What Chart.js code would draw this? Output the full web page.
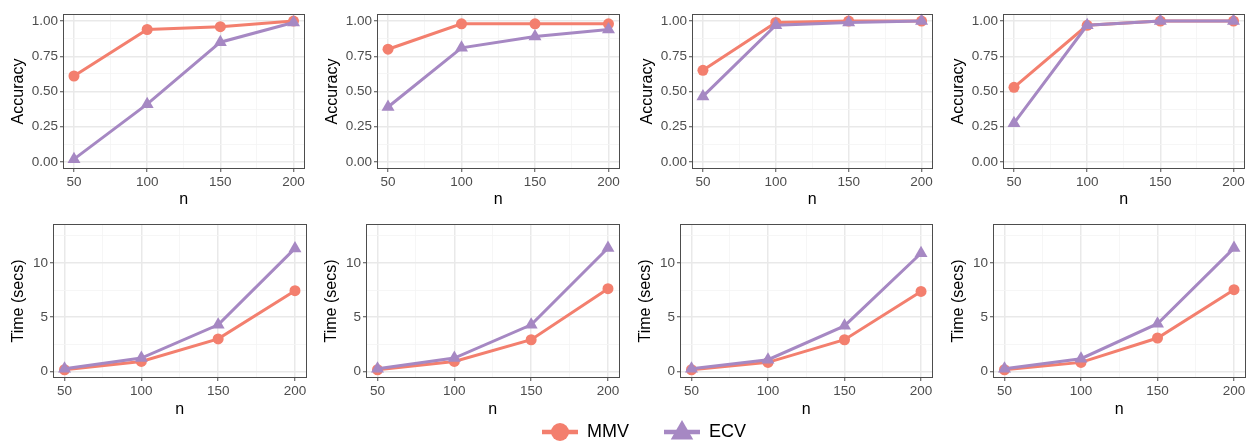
<!DOCTYPE html>
<html>
<head>
<meta charset="utf-8">
<script src="https://cdn.jsdelivr.net/npm/chart.js@4.4.1/dist/chart.umd.min.js"></script>
<style>
  html, body { margin: 0; padding: 0; background: #fff; }
  body { width: 1252px; height: 442px; position: relative; overflow: hidden; }
  .panel { position: absolute; }
  .panel canvas { display: block; }
</style>
</head>
<body>
<script>
// x values and tick positions
const nValues = [50, 100, 150, 200];
const xTicks = [50, 75, 100, 125, 150, 175, 200];
const accTicks = [0, 0.125, 0.25, 0.375, 0.5, 0.625, 0.75, 0.875, 1];
const timeTicks = [0, 2.5, 5, 7.5, 10, 12.5];
const seriesNames = ['MMV', 'ECV'];

// accuracy, one row per panel (left to right)
const accMMV = [
    [0.61, 0.94, 0.96, 1.00],
    [0.80, 0.98, 0.98, 0.98],
    [0.65, 0.99, 1.00, 1.00],
    [0.53, 0.97, 1.00, 1.00]
];
const accECV = [
    [0.02, 0.41, 0.85, 0.99],
    [0.39, 0.81, 0.89, 0.94],
    [0.465, 0.97, 0.99, 1.00],
    [0.275, 0.97, 1.00, 1.00]
];

// time in seconds, one row per panel
const timeMMV = [
    [0.15, 0.92, 3.00, 7.45],
    [0.15, 0.92, 2.92, 7.63],
    [0.15, 0.83, 2.92, 7.38],
    [0.15, 0.83, 3.08, 7.54]
];
const timeECV = [
    [0.25, 1.23, 4.30, 11.35],
    [0.25, 1.23, 4.30, 11.38],
    [0.25, 1.08, 4.20, 10.90],
    [0.25, 1.17, 4.40, 11.38]
];

const colors = { mmv: '#F37F6E', ecv: '#A688C3', tick: '#4D4D4D', major: '#E9E9E9', minor: '#F4F4F4', frame: '#4D4D4D' };
Chart.defaults.font.family = "'Liberation Sans', Arial, Helvetica, sans-serif";

const frame = {
    id: 'frame',
    afterDraw(chart) {
        const { ctx, chartArea: a } = chart;
        ctx.save();
        ctx.strokeStyle = colors.frame;
        ctx.lineWidth = 1;
        ctx.strokeRect(Math.round(a.left) + 0.5, Math.round(a.top) + 0.5, Math.round(a.width) - 1, Math.round(a.height) - 1);
        ctx.restore();
    }
};

function addCanvas(left, top, width, height) {
    const wrap = document.createElement('div');
    wrap.className = 'panel';
    wrap.style.left = left + 'px';
    wrap.style.top = top + 'px';
    const canvas = document.createElement('canvas');
    canvas.width = width;
    canvas.height = height;
    canvas.style.width = width + 'px';
    canvas.style.height = height + 'px';
    wrap.appendChild(canvas);
    document.body.appendChild(wrap);
    return canvas;
}

function makePanel(box, mmv, ecv, y) {
    const canvas = addCanvas(box.left, box.top, box.width, box.height);
    const xMajor = v => v % 50 === 0;
    const gridColor = isMajor => c => isMajor(c.tick.value) ? colors.major : colors.minor;
    const gridWidth = isMajor => c => isMajor(c.tick.value) ? 1.5 : 0.8;
    const tickColor = isMajor => c => isMajor(c.tick.value) ? colors.frame : 'rgba(0,0,0,0)';

    return new Chart(canvas, {
        type: 'line',
        data: {
            datasets: [
                {
                    label: seriesNames[0],
                    data: nValues.map((n, i) => ({ x: n, y: mmv[i] })),
                    borderColor: colors.mmv,
                    backgroundColor: colors.mmv,
                    borderWidth: 3,
                    pointStyle: 'circle',
                    pointRadius: 5.5,
                    pointBorderWidth: 0,
                    order: 1,
                    clip: false
                },
                {
                    label: seriesNames[1],
                    data: nValues.map((n, i) => ({ x: n, y: ecv[i] })),
                    borderColor: colors.ecv,
                    backgroundColor: colors.ecv,
                    borderWidth: 3,
                    pointStyle: 'triangle',
                    pointRadius: 7.5,
                    pointBorderWidth: 0,
                    order: 0,
                    clip: false
                }
            ]
        },
        options: {
            responsive: false,
            animation: false,
            events: [],
            layout: { padding: { top: box.padTop, right: 4, left: 0, bottom: 0 } },
            plugins: { legend: { display: false }, tooltip: { enabled: false } },
            scales: {
                x: {
                    type: 'linear',
                    bounds: 'data',
                    min: 42.5,
                    max: 207.5,
                    afterBuildTicks: s => { s.ticks = xTicks.map(v => ({ value: v })); },
                    afterFit: s => { s.height = box.xAxisH; },
                    ticks: {
                        autoSkip: false,
                        maxRotation: 0,
                        padding: 2,
                        color: colors.tick,
                        font: { size: 13.5 },
                        callback: v => xMajor(v) ? String(v) : ''
                    },
                    grid: { color: gridColor(xMajor), lineWidth: gridWidth(xMajor), tickColor: tickColor(xMajor), tickLength: 3, tickWidth: 1 },
                    border: { display: false },
                    title: { display: true, text: 'n', color: '#000', font: { size: 16 }, padding: { top: 0, bottom: 2.4 } }
                },
                y: {
                    type: 'linear',
                    bounds: 'data',
                    min: y.min,
                    max: y.max,
                    afterBuildTicks: s => { s.ticks = y.ticks.map(v => ({ value: v })); },
                    afterFit: s => { s.width = box.axisW; },
                    ticks: {
                        autoSkip: false,
                        padding: 2,
                        color: colors.tick,
                        font: { size: 13.5 },
                        callback: v => y.isMajor(v) ? y.format(v) : ''
                    },
                    grid: { color: gridColor(y.isMajor), lineWidth: gridWidth(y.isMajor), tickColor: tickColor(y.isMajor), tickLength: 3, tickWidth: 1 },
                    border: { display: false },
                    title: { display: true, text: y.title, color: '#000', font: { size: 16 }, padding: { top: 9.4, bottom: 0 } }
                }
            }
        },
        plugins: [frame]
    });
}

const accAxis = {
    title: 'Accuracy', min: -0.05, max: 1.05, ticks: accTicks,
    isMajor: v => Math.abs(v * 4 - Math.round(v * 4)) < 1e-9,
    format: v => v.toFixed(2)
};
const timeAxis = {
    title: 'Time (secs)', min: -0.61, max: 13.6, ticks: timeTicks,
    isMajor: v => v % 5 === 0,
    format: v => String(v)
};

const topBoxes = [
    { left: 0, width: 312 }, { left: 314, width: 313 }, { left: 629, width: 311 }, { left: 940, width: 312 }
];
const bottomBoxes = [
    { left: 0, width: 314 }, { left: 313, width: 314 }, { left: 627, width: 313 }, { left: 940, width: 313 }
];

topBoxes.forEach((b, i) => {
    makePanel({ ...b, top: 0, height: 212, padTop: 14, xAxisH: 43, axisW: 63 }, accMMV[i], accECV[i], accAxis);
});
bottomBoxes.forEach((b, i) => {
    makePanel({ ...b, top: 212, height: 210, padTop: 12, xAxisH: 44, axisW: 53 }, timeMMV[i], timeECV[i], timeAxis);
});

// legend icons: line with the marker on top, like the ggplot key
function legendIcon(shape, color) {
    const c = document.createElement('canvas');
    c.width = 36;
    c.height = 30;
    const g = c.getContext('2d');
    g.strokeStyle = color;
    g.fillStyle = color;
    g.lineWidth = 4.5;
    g.beginPath();
    g.moveTo(0, 15);
    g.lineTo(36, 15);
    g.stroke();
    g.beginPath();
    if (shape === 'circle') {
        g.arc(18, 15, 9, 0, Math.PI * 2);
    } else {
        const r = 13;
        g.moveTo(18, 16 - r);
        g.lineTo(18 + r * Math.sin(Math.PI / 3), 16 + r / 2);
        g.lineTo(18 - r * Math.sin(Math.PI / 3), 16 + r / 2);
        g.closePath();
    }
    g.fill();
    return c;
}

const legendIcons = [legendIcon('circle', colors.mmv), legendIcon('triangle', colors.ecv)];
const legendCanvas = addCanvas(36, 388, 1216, 54);
new Chart(legendCanvas, {
    type: 'line',
    data: {
        datasets: seriesNames.map((name, i) => ({
            label: name,
            data: [],
            borderColor: i ? colors.ecv : colors.mmv,
            backgroundColor: i ? colors.ecv : colors.mmv
        }))
    },
    options: {
        responsive: false,
        animation: false,
        events: [],
        scales: { x: { display: false }, y: { display: false } },
        plugins: {
            tooltip: { enabled: false },
            legend: {
                display: true,
                position: 'top',
                maxHeight: 120,
                labels: {
                    usePointStyle: true,
                    pointStyleWidth: 36,
                    padding: 35,
                    color: '#000',
                    font: { size: 18 },
                    generateLabels: chart => chart.data.datasets.map((d, i) => ({
                        text: d.label,
                        pointStyle: legendIcons[i],
                        fillStyle: d.backgroundColor,
                        strokeStyle: d.borderColor,
                        lineWidth: 0,
                        hidden: false,
                        datasetIndex: i
                    }))
                }
            }
        }
    }
});
</script>
</body>
</html>
